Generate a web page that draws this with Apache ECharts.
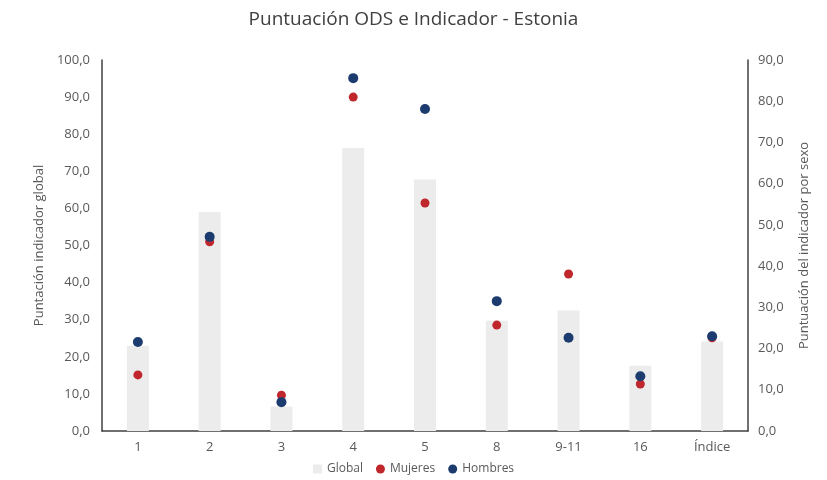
<!DOCTYPE html>
<html>
<head>
<meta charset="utf-8">
<script src="https://cdn.jsdelivr.net/npm/echarts@6/dist/echarts.min.js"></script>
<style>
  html, body { margin: 0; padding: 0; background: #ffffff; }
  #chart { width: 827px; height: 480px; }
</style>
</head>
<body>
<div id="chart"></div>
<script>
// ODS categories along the horizontal axis
const categories = ['1', '2', '3', '4', '5', '8', '9-11', '16', 'Índice'];
// Global indicator score (left axis)
const globalScores = [23.0, 59.0, 6.6, 76.3, 67.8, 29.7, 32.5, 17.6, 24.1];
// Score by sex (right axis)
const mujeresScores = [13.6, 45.9, 8.7, 81.0, 55.3, 25.7, 38.1, 11.4, 22.6];
const hombresScores = [21.6, 47.1, 7.0, 85.6, 78.1, 31.5, 22.6, 13.3, 23.0];

const fmt = v => v.toFixed(1).replace('.', ',');
const fontFamily = '"Open Sans", "Noto Sans", sans-serif';
const textColor = '#595959';

const chart = echarts.init(document.getElementById('chart'), null, { renderer: 'canvas' });

chart.setOption({
  animation: false,
  backgroundColor: '#ffffff',
  textStyle: { fontFamily: fontFamily },
  title: {
    text: 'Puntuación ODS e Indicador - Estonia',
    left: 'center',
    top: 5,
    textStyle: { fontFamily: fontFamily, fontSize: 19, fontWeight: 'normal', color: '#404040' }
  },
  legend: {
    bottom: 0,
    left: 'center',
    itemWidth: 9,
    itemHeight: 9,
    itemGap: 13,
    textStyle: { fontFamily: fontFamily, fontSize: 12, color: textColor },
    data: [
      { name: 'Global', icon: 'rect' },
      { name: 'Mujeres', icon: 'circle' },
      { name: 'Hombres', icon: 'circle' }
    ]
  },
  grid: { left: 102, right: 79, top: 60, bottom: 49 },
  xAxis: {
    type: 'category',
    data: categories,
    axisLine: { show: true, lineStyle: { color: '#404040', width: 1.5 } },
    axisTick: { show: false },
    axisLabel: { color: textColor, fontSize: 13, fontFamily: fontFamily, margin: 10 }
  },
  yAxis: [
    {
      type: 'value',
      min: 0,
      max: 100,
      interval: 10,
      name: 'Puntación indicador global',
      nameLocation: 'middle',
      nameGap: 50,
      nameTextStyle: { color: textColor, fontSize: 13, fontFamily: fontFamily },
      axisLine: { show: true, lineStyle: { color: '#404040', width: 1.5 } },
      axisTick: { show: false },
      splitLine: { show: false },
      axisLabel: { color: textColor, fontSize: 13, fontFamily: fontFamily, margin: 12, formatter: fmt }
    },
    {
      type: 'value',
      min: 0,
      max: 90,
      interval: 10,
      name: 'Puntuación del indicador por sexo',
      nameLocation: 'middle',
      nameGap: 50,
      nameRotate: 90,
      nameTextStyle: { color: textColor, fontSize: 13, fontFamily: fontFamily },
      axisLine: { show: true, lineStyle: { color: '#404040', width: 1.5 } },
      axisTick: { show: false },
      splitLine: { show: false },
      axisLabel: { color: textColor, fontSize: 13, fontFamily: fontFamily, margin: 10, formatter: fmt }
    }
  ],
  series: [
    {
      name: 'Global',
      type: 'bar',
      yAxisIndex: 0,
      barWidth: 22,
      itemStyle: { color: '#ececec' },
      data: globalScores
    },
    {
      name: 'Mujeres',
      type: 'scatter',
      yAxisIndex: 1,
      symbol: 'circle',
      symbolSize: 9,
      itemStyle: { color: '#c0272d', opacity: 1 },
      data: mujeresScores
    },
    {
      name: 'Hombres',
      type: 'scatter',
      yAxisIndex: 1,
      symbol: 'circle',
      symbolSize: 10,
      itemStyle: { color: '#1c3b6e', opacity: 1 },
      data: hombresScores
    }
  ]
});
</script>
</body>
</html>
